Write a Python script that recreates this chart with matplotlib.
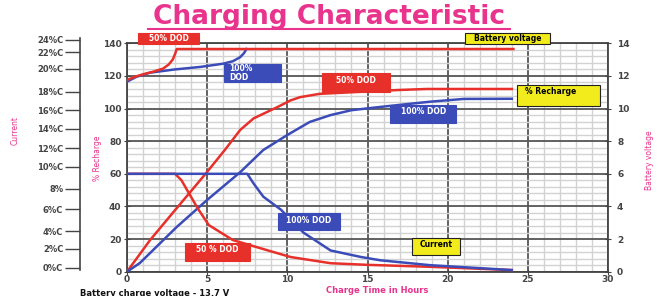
import matplotlib
matplotlib.use("Agg")
import matplotlib.pyplot as plt
from matplotlib.patches import Rectangle
from matplotlib.lines import Line2D

# ---------------- data ----------------
# % recharge (main axis, 0-140)
rech50_h = [0, 1.44, 2.9, 4.9, 6.1, 7.06, 7.9, 9.4, 10.2, 10.8, 12, 13, 15, 17, 18.7, 24]
rech50_v = [0, 19.4, 36.6, 60, 74.6, 86.9, 94, 101, 105, 107, 109, 109.5, 110.5, 111.4, 112, 112]
rech100_h = [0, 0.8, 3.1, 5, 7.06, 8.5, 10, 11.4, 12.7, 14, 15.8, 18.9, 21, 24]
rech100_v = [0, 5.3, 27.4, 44, 61, 74.6, 83.8, 91.8, 96, 99, 101, 104.2, 105.9, 106]

# battery voltage (right axis, V)
volt50_h = [0, 0.5, 1, 1.6, 2.25, 2.6, 2.85, 3.0, 3.1, 24.1]
volt50_v = [11.75, 11.95, 12.1, 12.25, 12.45, 12.7, 13.0, 13.35, 13.65, 13.65]
volt100_h = [0, 0.6, 1.44, 3, 4.56, 6.0, 6.6, 7.06, 7.3, 7.45]
volt100_v = [11.65, 11.95, 12.2, 12.4, 12.55, 12.75, 12.9, 13.15, 13.4, 13.65]

# current (drawn on main scale)
cur50_h = [0, 3, 3.4, 3.75, 4.4, 5.1, 6.6, 8.7, 10.2, 12.7, 15, 18.9, 24]
cur50_v = [60, 60, 56, 50, 39, 28.6, 19.4, 13.3, 9, 5.2, 4.2, 3, 1]
cur100_h = [0, 7.5, 7.9, 8.5, 9.6, 11, 12.7, 14.6, 15.8, 18.9, 24]
cur100_v = [60, 60, 54, 46, 38, 24, 13, 9, 7, 4, 1]

x_ticks = [0, 5, 10, 15, 20, 25, 30]
y_ticks = [0, 20, 40, 60, 80, 100, 120, 140]
v_ticks = [0, 2, 4, 6, 8, 10, 12, 14]
cur_labels = ['0%C', '2%C', '4%C', '6%C', '8%', '10%C', '12%C', '14%C',
              '16%C', '18%C', '20%C', '22%C', '24%C']
cur_pos = [2.3, 13.9, 24.9, 38.4, 50.7, 64.2, 75.8, 87.5, 99.1, 110.2, 124.3, 134.7, 142.1]

RED = '#e8302a'
BLUE = '#3b4cb8'
YEL = '#f2ec1c'
PINK = '#e8348c'
TXT = '#444444'

W, H = 661, 296
fig = plt.figure(figsize=(W / 100, H / 100), dpi=100)

def px_rect(l, t, r, b):
    return [l / W, (H - b) / H, (r - l) / W, (b - t) / H]

ax = fig.add_axes(px_rect(127, 43.3, 608, 271.7))
ax.set_xlim(0, 30)
ax.set_ylim(0, 140)
ax.set_xticks(x_ticks)
ax.set_yticks(y_ticks)
ax.set_xticks(range(0, 31), minor=True)
ax.set_yticks(range(0, 141, 4), minor=True)
ax.grid(which='minor', color='#d2d2d2', lw=1.0, zorder=0)
ax.grid(which='major', color='#555555', lw=1.3, zorder=0)
ax.set_axisbelow(True)
for s in ax.spines.values():
    s.set_color('#444444')
    s.set_linewidth(1.3)
ax.tick_params(which='major', direction='inout', length=4, color='#444444',
               labelsize=6.5, labelcolor=TXT, pad=2)
ax.tick_params(axis='x', which='major', pad=0.5)
ax.tick_params(which='minor', length=0)
for lab in ax.get_xticklabels() + ax.get_yticklabels():
    lab.set_fontweight('bold')

ax.plot(rech50_h, rech50_v, color=RED, lw=1.8, zorder=3)
ax.plot(rech100_h, rech100_v, color=BLUE, lw=1.8, zorder=3)
ax.plot(cur50_h, cur50_v, color=RED, lw=1.8, zorder=3)
ax.plot(cur100_h, cur100_v, color=BLUE, lw=1.8, zorder=3)

ax2 = ax.twinx()
ax2.set_ylim(0, 14)
ax2.set_yticks(v_ticks)
ax2.tick_params(direction='inout', length=5, color='#444444', labelsize=6.5,
                labelcolor=TXT, pad=4)
for lab in ax2.get_yticklabels():
    lab.set_fontweight('bold')
for s in ax2.spines.values():
    s.set_visible(False)
ax2.plot(volt100_h, volt100_v, color=BLUE, lw=1.8, zorder=3)
ax2.plot(volt50_h, volt50_v, color=RED, lw=1.8, zorder=3)

# current axis on the far left
axc = fig.add_axes(px_rect(80, 38, 80.5, 270))
axc.set_ylim(1.0, 143.3)
axc.set_xticks([])
axc.set_yticks(cur_pos)
axc.set_yticklabels(cur_labels)
axc.patch.set_visible(False)
for k in ['right', 'top', 'bottom']:
    axc.spines[k].set_visible(False)
axc.spines['left'].set_color('#444444')
axc.spines['left'].set_linewidth(1.2)
axc.tick_params(axis='y', direction='out', length=11, width=1.0, color='#444444',
                labelsize=6, labelcolor=TXT, pad=1)
for lab in axc.get_yticklabels():
    lab.set_fontweight('bold')

# boxes
def box(x0, x1, y0, y1, fc, text, tc, ty=None, ha='center', tx=None):
    r = Rectangle((x0, y0), x1 - x0, y1 - y0, facecolor=fc, edgecolor='#222222' if fc == YEL else fc,
                  lw=0.8, zorder=5, clip_on=False)
    ax.add_patch(r)
    if ty is None:
        ty = (y0 + y1) / 2
    if tx is None:
        tx = (x0 + x1) / 2 if ha == 'center' else x0 + 0.3
    ax.text(tx, ty, text, color=tc, fontsize=5.5, fontweight='bold', ha=ha, va='center',
            zorder=6, clip_on=False, linespacing=0.9)

box(0.69, 4.49, 139.6, 146.4, RED, '50% DOD', 'white')
box(6.05, 9.61, 116.3, 127.4, BLUE, '100%\nDOD', 'white', ha='left')
box(12.17, 16.41, 110.2, 121.8, RED, '50% DOD', 'white', ty=117.5)
box(16.41, 20.53, 91.2, 102.3, BLUE, '100% DOD', 'white', ty=98.5)
box(21.08, 26.39, 139.6, 146.4, YEL, 'Battery voltage', 'black')
box(24.33, 29.5, 101.6, 114.4, YEL, '% Recharge', 'black', ty=110.5, ha='left', tx=24.8)
box(9.42, 13.29, 25.6, 36.0, BLUE, '100% DOD', 'white', ty=31.5)
box(3.62, 7.68, 6.5, 17.5, RED, '50 % DOD', 'white', ty=13.5)
box(17.78, 20.77, 10.2, 20.6, YEL, 'Current', 'black', ty=16.5)

# texts
fig.text(329 / W, 1 - 17 / H, 'Charging Characteristic', color=PINK, fontsize=19,
         fontweight='bold', ha='center', va='center')
fig.add_artist(Line2D([148 / W, 510 / W], [1 - 28.5 / H, 1 - 28.5 / H], color=PINK, lw=1.5))
fig.text(15 / W, 1 - 130 / H, 'Current', color=PINK, fontsize=5.5, rotation=90,
         ha='center', va='center')
fig.text(97 / W, 1 - 158 / H, '% Recharge', color=PINK, fontsize=5.5, rotation=90,
         ha='center', va='center')
fig.text(650 / W, 1 - 160 / H, 'Battery voltage', color=PINK, fontsize=5.5, rotation=90,
         ha='center', va='center')
fig.text(377 / W, 1 - 290.5 / H, 'Charge Time in Hours', color=PINK, fontsize=6,
         fontweight='bold', ha='center', va='center')
fig.text(80 / W, 1 - 293 / H, 'Battery charge voltage - 13.7 V', color='#111111',
         fontsize=6, fontweight='bold', ha='left', va='center')

fig.savefig('out.png', dpi=100)
